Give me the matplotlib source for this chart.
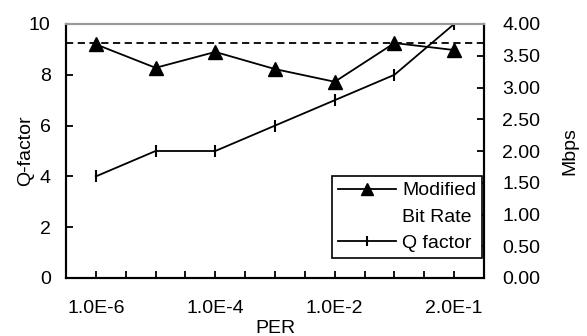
import matplotlib
matplotlib.use("Agg")
import matplotlib.pyplot as plt
from matplotlib.lines import Line2D
from matplotlib.ticker import FixedLocator, NullFormatter

plt.rcParams['font.family'] = ['Liberation Sans', 'DejaVu Sans']

# data
per_labels = ["1.0E-6", "1.0E-5", "1.0E-4", "1.0E-3", "1.0E-2", "1.0E-1", "2.0E-1"]
q_factor = [4, 5, 5, 6, 7, 8, 10]
bit_rate = [3.68, 3.31, 3.56, 3.29, 3.09, 3.70, 3.59]
target_rate = 3.70

x = list(range(len(per_labels)))
FS = 14

fig = plt.figure(figsize=(5.87, 3.36), dpi=100)
ax = fig.add_axes([66/587, 1 - 278/336, (484-66)/587, (278-24)/336])
ax2 = ax.twinx()

ln_q, = ax.plot(x, q_factor, color="black", lw=1.3, marker="|", ms=9, mew=1.5)
ln_b, = ax2.plot(x, bit_rate, color="black", lw=1.3, marker="^", ms=10)
ax2.axhline(target_rate, color="black", lw=1.3, ls=(0, (4, 2.5)))

ax.set_xlim(-0.5, len(x) - 0.5)
ax.set_ylim(0, 10)
ax2.set_ylim(0, 4)
ax.set_yticks([0, 2, 4, 6, 8, 10])
ax2.set_yticks([0, 0.5, 1, 1.5, 2, 2.5, 3, 3.5, 4])
ax2.set_yticklabels(["%.2f" % v for v in ax2.get_yticks()])

ax.set_xticks(x[::2])
ax.set_xticklabels(per_labels[::2])
ax.xaxis.set_minor_locator(FixedLocator([i + 0.5 for i in range(-1, len(x))] + x[1::2]))
ax.xaxis.set_minor_formatter(NullFormatter())

for a in (ax, ax2):
    a.tick_params(axis="both", which="both", direction="in", length=5, width=1.3,
                  labelsize=FS)
    for s in a.spines.values():
        s.set_linewidth(1.5)
    a.spines["top"].set_color("#999999")
ax.tick_params(axis="y", pad=11)
ax2.tick_params(axis="y", pad=13)
ax.tick_params(axis="x", pad=16)

ax.set_ylabel("Q-factor", fontsize=FS)
ax.yaxis.set_label_coords(-0.077, 0.5)
ax2.set_ylabel("Mbps", fontsize=FS)
ax2.yaxis.set_label_coords(1.184, 0.5)
ax.set_xlabel("PER", fontsize=FS)
ax.xaxis.set_label_coords(0.5, -0.165)

blank = Line2D([], [], color="none")
leg = ax2.legend([ln_b, blank, ln_q], ["Modified", "Bit Rate", "Q factor"],
                 loc="lower right", bbox_to_anchor=(0.995, 0.079), fontsize=FS,
                 frameon=True, fancybox=False, edgecolor="black", framealpha=1,
                 borderpad=0.3, handlelength=3.0, handletextpad=0.3,
                 labelspacing=0.45, borderaxespad=0, markerscale=0.85)
leg.get_frame().set_linewidth(1.2)

fig.savefig("out.png", dpi=100)
